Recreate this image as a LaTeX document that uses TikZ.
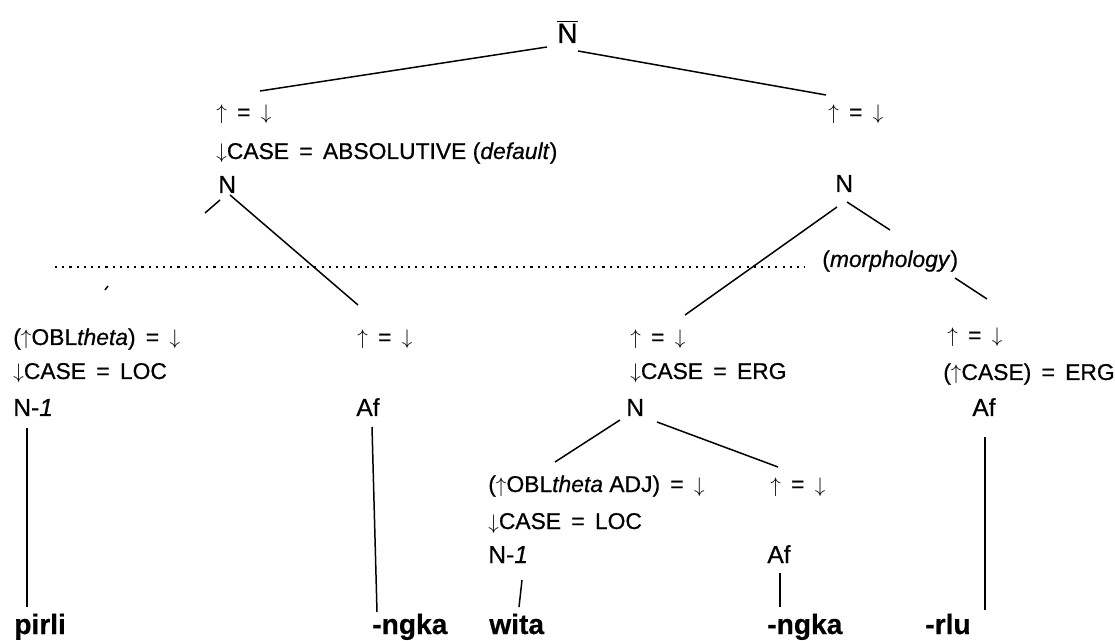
\documentclass[tikz,border=0pt]{standalone}
\usepackage{fontspec}
\setmainfont{Liberation Sans}[FakeBold=0.6]
\usetikzlibrary{calc}
\newcommand{\eqs}{\hspace{0.45em}=\hspace{0.45em}}
\newcommand{\upar}{\ensuremath{\uparrow}}
\newcommand{\dnar}{\ensuremath{\downarrow}}

\begin{document}
\begin{tikzpicture}[
			x=0.02cm, y=-0.02cm,
			lbl/.style={anchor=base west, inner sep=0pt, font=\fontsize{13}{15}\selectfont},
			cat/.style={anchor=base west, inner sep=0pt, font=\fontsize{14}{16}\selectfont},
			word/.style={anchor=base west, inner sep=0pt, font=\fontsize{16}{18}\selectfont\bfseries},
			branch/.style={line width=0.85pt},
			boundary/.style={line width=1.1pt, dash pattern=on 1.2pt off 2.9pt}
			]
			\useasboundingbox (0,0) rectangle (1115,641);
			\node[cat, font=\fontsize{16}{18}\selectfont] (Nbar) at (557,43) {$\overline{\mbox{N}}$};
			
			\node[lbl] (ann1a) at (216,120) {\upar\eqs\dnar};
			\node[lbl] (ann1b) at (216,159) {\dnar CASE\eqs ABSOLUTIVE (\textit{default})};
			\node[cat] (nL) at (218,193) {N};
			\node[lbl] (ann2) at (828,120) {\upar\eqs\dnar};
			\node[cat] (nR) at (835,192) {N};
			
			\node[lbl] (morph) at (822,267) {(\textit{morphology})};
			\coordinate (dotL) at (55,267);
			
			\node[lbl] (ann3a) at (13,345) {(\upar OBL\textit{theta})\eqs\dnar};
			\node[lbl] (ann3b) at (13,379) {\dnar CASE\eqs LOC};
			\node[cat] (n1) at (13,416) {N-\textit{1}};
			\node[lbl] (ann4) at (357,345) {\upar\eqs\dnar};
			\node[cat] (af1) at (356,416) {Af};
			\node[lbl] (ann5a) at (630,345) {\upar\eqs\dnar};
			\node[lbl] (ann5b) at (630,379) {\dnar CASE\eqs ERG};
			\node[cat] (nM) at (626,416) {N};
			\node[lbl] (ann6a) at (947,343) {\upar\eqs\dnar};
			\node[lbl] (ann6b) at (943,380) {(\upar CASE)\eqs ERG};
			\node[cat] (af3) at (972,416) {Af};
			
			\node[lbl] (ann7a) at (488,492) {(\upar OBL\textit{theta} ADJ)\eqs\dnar};
			\node[lbl] (ann7b) at (488,529) {\dnar CASE\eqs LOC};
			\node[cat] (n2) at (488,563) {N-\textit{1}};
			\node[lbl] (ann8) at (770,492) {\upar\eqs\dnar};
			\node[cat] (af2) at (767,563) {Af};
			
			\node[word] (pirli) at (14,634) {pirli};
			\node[word] (ngka1) at (372,634) {-ngka};
			\node[word] (wita) at (489,634) {wita};
			\node[word] (ngka2) at (767,634) {-ngka};
			\node[word] (rlu) at (925,634) {-rlu};
			
			\draw[branch] ($(Nbar.base west)+(-10,4)$) -- ($(ann1a.base west)+(44,-29)$);
			\draw[branch] ($(Nbar.base west)+(21,8)$) -- ($(ann2.base west)+(-2,-25)$);
			\draw[branch] ($(nL.base west)+(2,7)$) -- ($(nL.base west)+(-13,20)$);
			\draw[branch] ($(ann3a.base west)+(92,-55)$) -- ($(ann3a.base west)+(95,-59)$);
			\draw[branch] ($(nL.base west)+(12,2)$) -- ($(ann4.base west)+(1,-40)$);
			\draw[boundary] (dotL) -- ($(morph.base west)+(-17,0)$);
			\draw[branch] ($(nR.base west)+(2,15)$) -- ($(ann5a.base west)+(55,-30)$);
			\draw[branch] ($(nR.base west)+(12,10)$) -- ($(morph.base west)+(68,-37)$);
			\draw[branch] ($(morph.base west)+(133,11)$) -- ($(ann6a.base west)+(40,-44)$);
			\draw[branch] ($(nM.base west)+(-6,4)$) -- ($(ann7a.base west)+(67,-30)$);
			\draw[branch] ($(nM.base west)+(31,6)$) -- ($(ann8.base west)+(8,-25)$);
			\draw[branch] ($(n1.base west)+(14,12)$) -- ($(pirli.base west)+(13,-27)$);
			\draw[branch] ($(af1.base west)+(16,11)$) -- ($(ngka1.base west)+(5,-22)$);
			\draw[branch] ($(n2.base west)+(34,17)$) -- ($(wita.base west)+(30,-27)$);
			\draw[branch] ($(af2.base west)+(13,10)$) -- ($(ngka2.base west)+(13,-27)$);
			\draw[branch] ($(af3.base west)+(13,21)$) -- ($(rlu.base west)+(60,-24)$);
		\end{tikzpicture}
\end{document}
